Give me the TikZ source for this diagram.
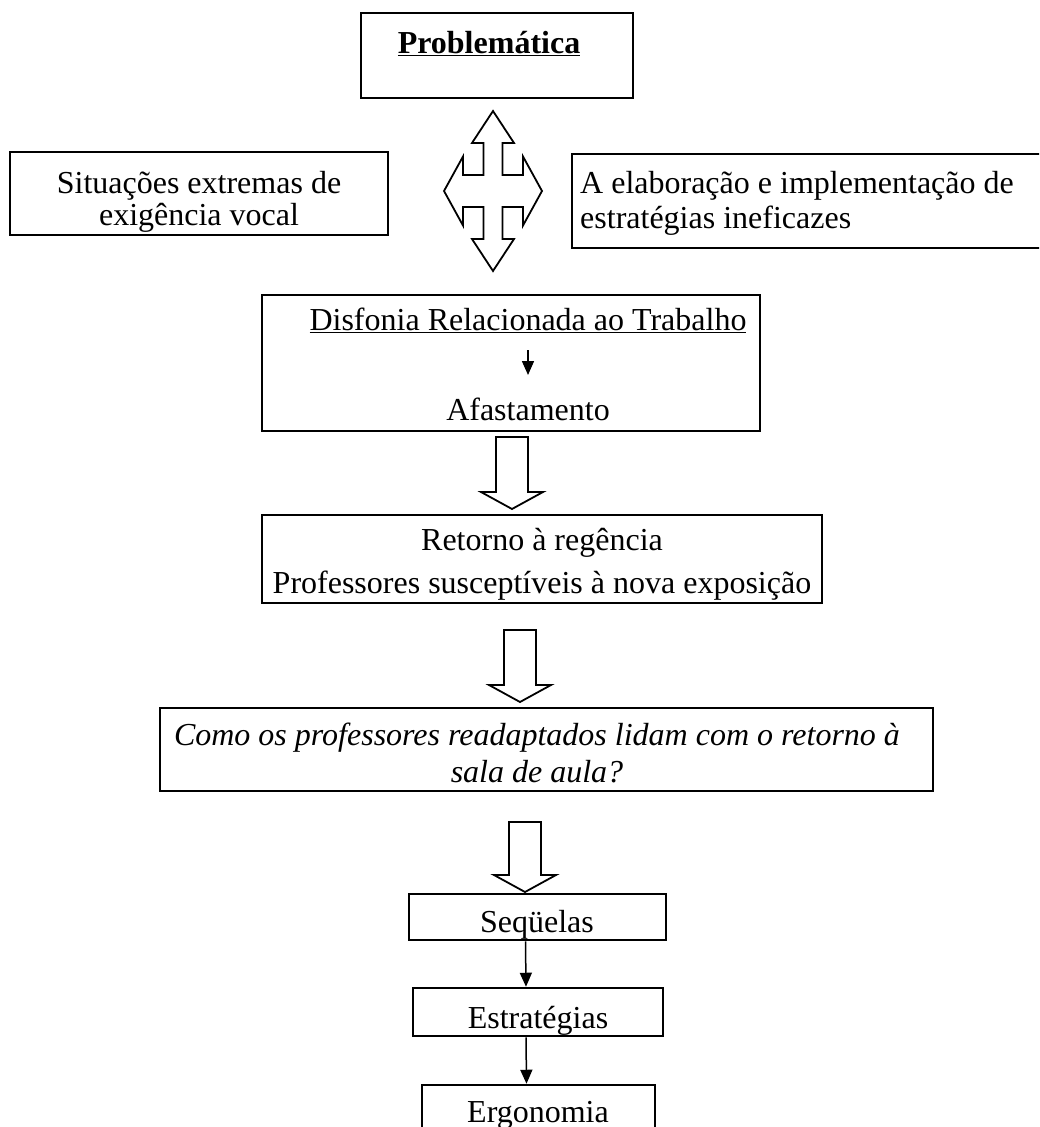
\documentclass[tikz,border=0pt]{standalone}
\usepackage{fontspec}
\setmainfont{Liberation Serif}
\usetikzlibrary{arrows.meta}

\begin{document}
\begin{tikzpicture}[x=1pt, y=-1pt,
                    box/.style={draw, line width=2.5pt, inner sep=0pt},
                    txt/.style={inner sep=0pt, anchor=base, font=\fontsize{32}{38}\selectfont},
                    hollow/.style={draw, line width=1.8pt, line join=miter, fill=white},
                    conn/.style={line width=1.5pt, -{Triangle[length=14pt, width=12pt]}}
                    ]
    \useasboundingbox (0,0) rectangle (1039,1127);
    \clip (0,0) rectangle (1039,1127);

    \node[box, minimum width=272, minimum height=85]  (prob) at (497,55.5) {};
    \node[box, minimum width=378, minimum height=83]  (sit)  at (199,193.5) {};
    \node[box, minimum width=488, minimum height=94]  (ela)  at (816,201) {};
    \node[box, minimum width=498, minimum height=136] (disf) at (511,363) {};
    \node[box, minimum width=560, minimum height=88]  (ret)  at (542,559) {};
    \node[box, minimum width=773, minimum height=83]  (como) at (546.5,749.5) {};
    \node[box, minimum width=257, minimum height=46]  (seq)  at (537.5,917) {};
    \node[box, minimum width=250, minimum height=48]  (est)  at (538,1012) {};
    \node[box, minimum width=233, minimum height=75]  (erg)  at (538.5,1122.5) {};

    \node[txt] (probT) at (489,53) {\underline{\textbf{Problemática}}};
    \node[txt] (sit1) at (199,193) {Situações extremas de};
    \node[txt] (sit2) at (199,225) {exigência vocal};
    \node[txt, anchor=base west] (ela1) at (580,193) {A elaboração e implementação de};
    \node[txt, anchor=base west] (ela2) at (580,228) {estratégias ineficazes};
    \node[txt] (dis) at (528,330) {\underline{Disfonia Relacionada ao Trabalho}};
    \node[txt] (afa) at (528,420) {Afastamento};
    \node[txt] (ret1) at (542,550) {Retorno à regência};
    \node[txt] (ret2) at (542,593) {Professores susceptíveis à nova exposição};
    \node[txt, font=\fontsize{32}{38}\selectfont\itshape] (como1) at (537,745) {Como os professores readaptados lidam com o retorno à};
    \node[txt, font=\fontsize{32}{38}\selectfont\itshape] (como2) at (537,782) {sala de aula?};
    \node[txt] (seqT) at (537,932) {Seqüelas};
    \node[txt] (estT) at (538,1028) {Estratégias};
    \node[txt] (ergT) at (538,1122) {Ergonomia};

    \draw[hollow, shift={(493,191)}] (0,-80) -- (21,-48) -- (9.5,-48) -- (9.5,-16) -- (30,-16) -- (30,-34.5)
        -- (49,0) -- (30,34.5) -- (30,16) -- (9.5,16) -- (9.5,48) -- (21,48) -- (0,80) -- (-21,48)
        -- (-9.5,48) -- (-9.5,16) -- (-30,16) -- (-30,34.5) -- (-49,0) -- (-30,-34.5) -- (-30,-16)
        -- (-9.5,-16) -- (-9.5,-48) -- (-21,-48) -- cycle;

    \foreach \cx/\ya/\yb in {512/437/509, 520/630/702, 525/822/892}
        \draw[hollow] (\cx-16,\ya) -- (\cx+16,\ya) -- (\cx+16,\yb-17) -- (\cx+31,\yb-17) -- (\cx,\yb)
            -- (\cx-31,\yb-17) -- (\cx-16,\yb-17) -- cycle;

    \coordinate (disA) at (528,350);
    \coordinate (disB) at (528,375);
    \draw[conn] (disA) -- (disB);
    \draw[conn] ([xshift=-12pt]seq.south) -- ([xshift=-12pt]est.north);
    \draw[conn] ([xshift=-12pt]est.south) -- ([xshift=-12pt]erg.north);
\end{tikzpicture}
\end{document}
